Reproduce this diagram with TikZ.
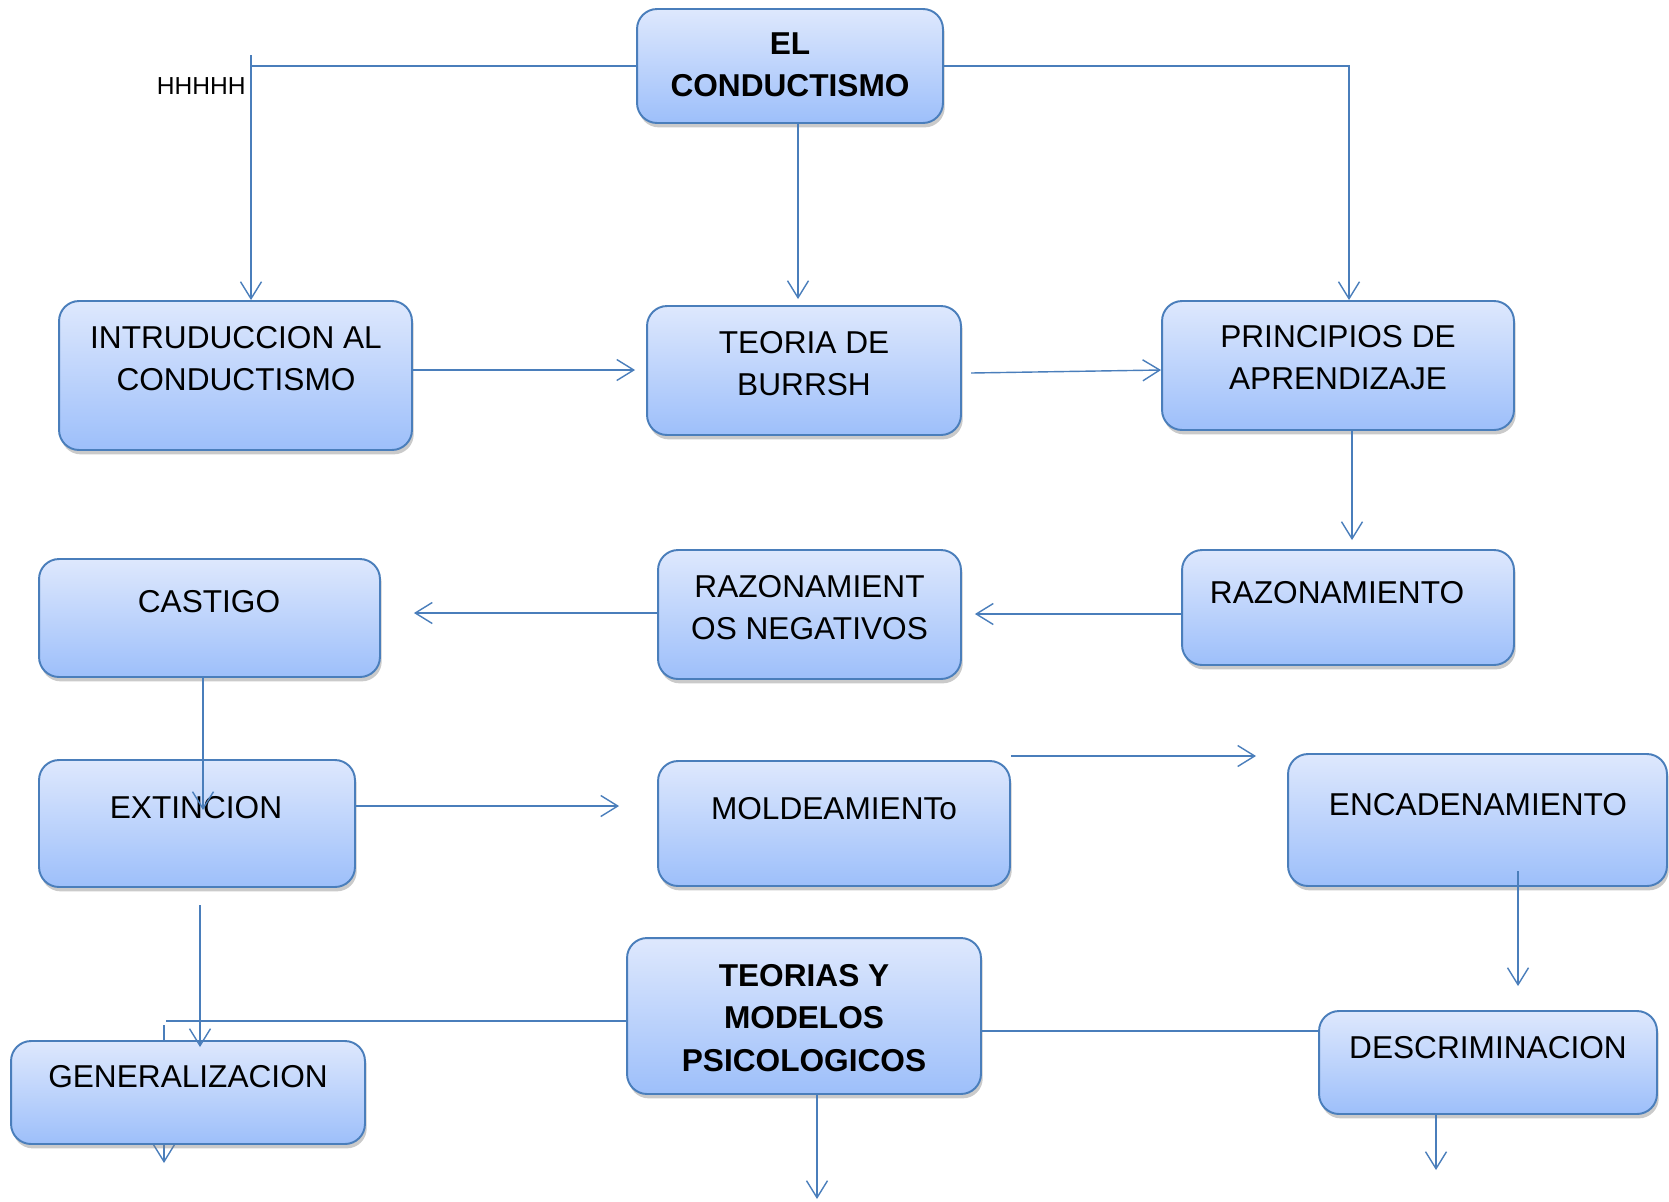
\documentclass[tikz,border=0pt]{standalone}
\usepackage{fontspec}
\setmainfont{Liberation Sans}
\usetikzlibrary{arrows.meta,shadows}

\definecolor{azul}{RGB}{74,126,187}
\definecolor{cajaarriba}{RGB}{222,232,253}
\definecolor{cajaabajo}{RGB}{157,191,250}

\tikzset{
    caja/.style = {rounded corners = 0.4cm, draw = azul, line width = 1.1pt, inner sep = 0pt,
        top color = cajaarriba, bottom color = cajaabajo,
        drop shadow = {shadow xshift = 1pt, shadow yshift = -2.5pt, opacity = 0.42}},
    texto/.style = {align = center, inner sep = 0pt, font = \fontsize{18}{24}\selectfont},
    linea/.style = {draw = azul, line width = 0.8pt},
    flecha/.style = {linea, -{Straight Barb[length = 0.34cm, width = 0.42cm]}}
}

\begin{document}
\begin{tikzpicture}[x = 0.02cm, y = -0.02cm]
    \useasboundingbox (0,0) rectangle (1669,1201);

    \draw[flecha] (164,1025) -- (164,1163);

    \node[caja, minimum width = 6.12cm, minimum height = 2.28cm] (el) at (790,66) {};
    \node[caja, minimum width = 7.06cm, minimum height = 2.98cm] (intro) at (235.5,375.5) {};
    \node[caja, minimum width = 6.28cm, minimum height = 2.58cm] (teoria) at (804,370.5) {};
    \node[caja, minimum width = 7.04cm, minimum height = 2.58cm] (princ) at (1338,365.5) {};
    \node[caja, minimum width = 6.64cm, minimum height = 2.30cm] (raz) at (1348,607.5) {};
    \node[caja, minimum width = 6.06cm, minimum height = 2.58cm] (razneg) at (809.5,614.5) {};
    \node[caja, minimum width = 6.82cm, minimum height = 2.36cm] (castigo) at (209.5,618) {};
    \node[caja, minimum width = 6.32cm, minimum height = 2.54cm] (ext) at (197,823.5) {};
    \node[caja, minimum width = 7.04cm, minimum height = 2.50cm] (mold) at (834,823.5) {};
    \node[caja, minimum width = 7.58cm, minimum height = 2.64cm] (encad) at (1477.5,820) {};
    \node[caja, minimum width = 7.08cm, minimum height = 3.12cm] (teorias) at (804,1016) {};
    \node[caja, minimum width = 7.08cm, minimum height = 2.06cm] (gen) at (188,1092.5) {};
    \node[caja, minimum width = 6.76cm, minimum height = 2.06cm] (desc) at (1488,1062.5) {};

    \node[texto, font = \fontsize{18}{24}\selectfont\bfseries] (el-t) at (790,64.5) {EL\\CONDUCTISMO};
    \node[texto] (intro-t) at (236,359) {INTRUDUCCION AL\\CONDUCTISMO};
    \node[texto] (teoria-t) at (804,364) {TEORIA DE\\BURRSH};
    \node[texto] (princ-t) at (1338,358) {PRINCIPIOS DE\\APRENDIZAJE};
    \node[texto] (raz-t) at (1337,593) {RAZONAMIENTO};
    \node[texto] (razneg-t) at (809.5,607.5) {RAZONAMIENT\\OS NEGATIVOS};
    \node[texto] (castigo-t) at (209,602) {CASTIGO};
    \node[texto] (ext-t) at (196,808) {EXTINCION};
    \node[texto] (mold-t) at (834,809) {MOLDEAMIENTo};
    \node[texto] (encad-t) at (1478,805) {ENCADENAMIENTO};
    \node[texto, font = \fontsize{18}{24}\selectfont\bfseries] (teorias-t) at (804,1018) {TEORIAS Y\\MODELOS\\PSICOLOGICOS};
    \node[texto] (gen-t) at (188,1077) {GENERALIZACION};
    \node[texto] (desc-t) at (1488,1048) {DESCRIMINACION};
    \node[texto, anchor = east, font = \fontsize{14}{16}\selectfont] (hh) at (246,86) {HHHHH};

    \draw[linea] (el.west) -- (el.west -| 251,0);
    \draw[flecha] (251,55) -- (intro.north -| 251,0);
    \draw[flecha, shorten >= 0.12cm] (el.south -| 798,0) -- (teoria.north -| 798,0);
    \draw[flecha] (el.east) -| (princ.north -| 1349,0);

    \draw[flecha, shorten >= 0.22cm] (intro.east |- 0,370) -- (teoria.west |- 0,370);
    \draw[flecha] (971,373) -- (princ.west |- 0,370);
    \draw[flecha, shorten >= 0.18cm] (princ.south -| 1352,0) -- (raz.north -| 1352,0);

    \draw[flecha, shorten >= 0.26cm] (raz.west |- 0,614) -- (razneg.east |- 0,614);
    \draw[flecha, shorten >= 0.66cm] (razneg.west |- 0,613) -- (castigo.east |- 0,613);
    \draw[flecha] (castigo.south -| 203,0) -- (203,810);

    \draw[flecha, shorten >= 0.76cm] (ext.east |- 0,806) -- (mold.west |- 0,806);
    \draw[flecha] (mold.east |- 0,756) -- (1256,756);
    \draw[flecha, shorten >= 0.48cm] (1518,871) -- (desc.north -| 1518,0);

    \draw[linea] (teorias.east |- 0,1031) -- (desc.west |- 0,1031);
    \draw[linea] (teorias.west |- 0,1021) -- (166,1021);
    \draw[flecha] (200,905) -- (200,1047);
    \draw[flecha] (teorias.south -| 817,0) -- (817,1199);
    \draw[flecha] (desc.south -| 1436,0) -- (1436,1170);
\end{tikzpicture}
\end{document}
